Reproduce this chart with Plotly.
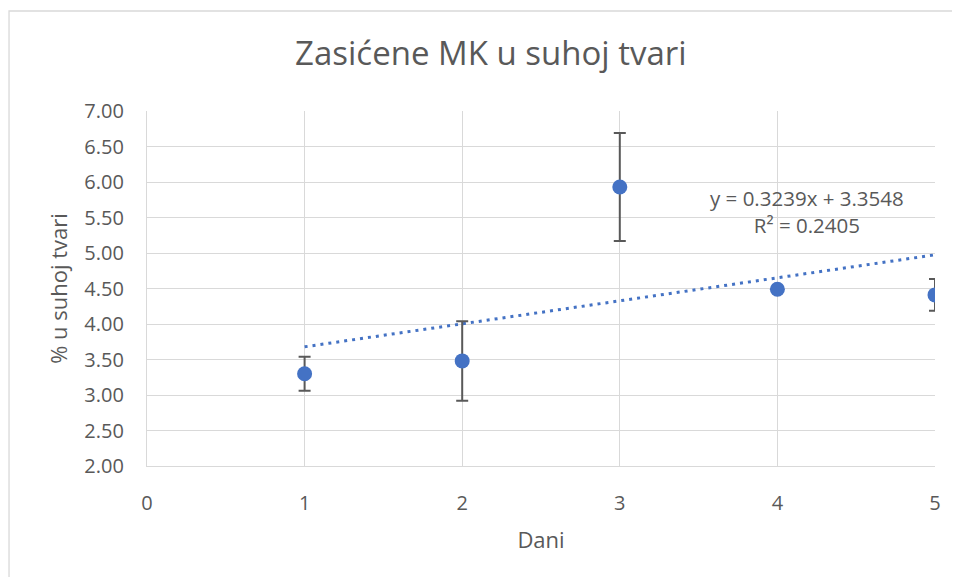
import plotly.graph_objects as go

days = [1, 2, 3, 4, 5]
values = [3.30, 3.48, 5.93, 4.49, 4.41]
errors = [0.24, 0.56, 0.76, 0.0, 0.225]
slope = 0.3239
intercept = 3.3548
trend_x = [1, 5]
trend_y = [slope * x + intercept for x in trend_x]
y_ticks = [2.0, 2.5, 3.0, 3.5, 4.0, 4.5, 5.0, 5.5, 6.0, 6.5, 7.0]
x_ticks = [0, 1, 2, 3, 4, 5]

FONT = "Open Sans"
GREY = "#595959"
GRID = "#d9d9d9"
BLUE = "#4472C4"

fig = go.Figure()
fig.add_trace(go.Scatter(
    x=trend_x, y=trend_y, mode="lines",
    line=dict(color=BLUE, width=3, dash="3px,5px"),
    hoverinfo="skip", showlegend=False))
fig.add_trace(go.Scatter(
    x=days, y=values, mode="markers",
    marker=dict(color=BLUE, size=15),
    error_y=dict(type="data", array=errors, visible=True,
                 color=GREY, thickness=2, width=6),
    showlegend=False))

fig.add_annotation(x=4.19, y=5.58, xref="x", yref="y",
                   text="y = 0.3239x + 3.3548<br>R² = 0.2405",
                   showarrow=False, align="center",
                   font=dict(family=FONT, size=20.5, color=GREY))

fig.add_shape(type="rect", xref="paper", yref="paper",
              x0=-0.1751, x1=1.05, y0=-0.35, y1=1.2817,
              line=dict(color=GRID, width=1.3), layer="below")

fig.update_layout(
    width=960, height=577,
    margin=dict(l=139, r=33, t=103, b=119),
    paper_bgcolor="white", plot_bgcolor="white",
    title=dict(text="Zasićene MK u suhoj tvari", x=0.503, xanchor="center",
               xref="container",
               y=0.921, yanchor="middle",
               font=dict(family=FONT, size=33, color=GREY)),
    font=dict(family=FONT, color=GREY),
    xaxis=dict(range=[0, 5], tickvals=x_ticks, ticktext=[str(v) for v in x_ticks],
               showgrid=True, gridcolor=GRID, gridwidth=1.3,
               showline=True, linecolor=GRID, linewidth=1.3,
               zeroline=False, ticks="", ticklabelstandoff=19,
               tickfont=dict(family=FONT, size=20, color=GREY),
               title=dict(text="Dani", standoff=17,
                          font=dict(family=FONT, size=22, color=GREY))),
    yaxis=dict(range=[2, 7], tickvals=y_ticks,
               ticktext=[f"{v:.2f}" for v in y_ticks],
               showgrid=True, gridcolor=GRID, gridwidth=1.3,
               showline=True, linecolor=GRID, linewidth=1.3,
               zeroline=False, ticks="", ticklabelstandoff=18,
               tickfont=dict(family=FONT, size=20, color=GREY),
               title=dict(text="% u suhoj tvari", standoff=10,
                          font=dict(family=FONT, size=22, color=GREY))),
)

fig.write_html("out.html")
